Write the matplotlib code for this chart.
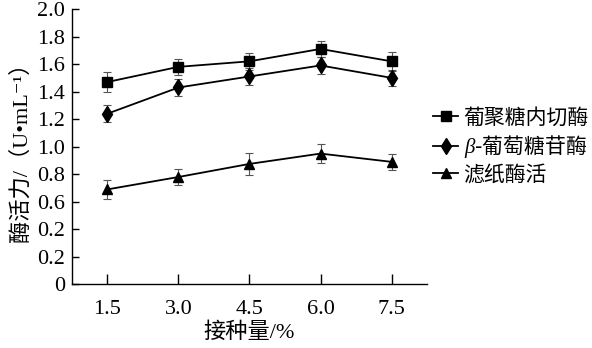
import matplotlib
matplotlib.use("Agg")
import matplotlib.pyplot as plt

plt.rcParams['font.family'] = ['Liberation Serif', 'Noto Sans CJK SC', 'DejaVu Sans']
plt.rcParams['mathtext.fontset'] = 'custom'
plt.rcParams['mathtext.it'] = 'Liberation Serif:italic'
plt.rcParams['mathtext.rm'] = 'Liberation Serif'

x_labels = ["1.5", "3.0", "4.5", "6.0", "7.5"]
x_vals = [1.5, 3.0, 4.5, 6.0, 7.5]

endo = [1.47, 1.58, 1.62, 1.71, 1.62]
endo_err = [0.07, 0.06, 0.06, 0.06, 0.07]
beta = [1.24, 1.43, 1.51, 1.59, 1.50]
beta_err = [0.06, 0.065, 0.06, 0.06, 0.06]
fpa = [0.69, 0.78, 0.875, 0.95, 0.89]
fpa_err = [0.07, 0.06, 0.08, 0.07, 0.06]

y_ticks = [0, 0.2, 0.4, 0.6, 0.8, 1.0, 1.2, 1.4, 1.6, 1.8, 2.0]
y_tick_labels = ["0", "0.2", "0.2", "0.6", "0.8", "1.0", "1.2", "1.4", "1.6", "1.8", "2.0"]

series = [
    ("葡聚糖内切酶", endo, endo_err, "s", 7.5),
    (r"$\mathit{\beta}$-葡萄糖苷酶", beta, beta_err, "d", 8.5),
    ("滤纸酶活", fpa, fpa_err, "^", 7.5),
]

fig = plt.figure(figsize=(5.92, 3.48), dpi=100)
ax = fig.add_axes([0.1216, 0.1828, 0.5997, 0.7913])

handles = []
for name, vals, errs, mk, ms in series:
    ax.errorbar(x_vals, vals, yerr=errs, fmt='none', ecolor='#555555',
                elinewidth=0.8, capsize=3, capthick=0.8, zorder=2)
    h, = ax.plot(x_vals, vals, color='black', lw=1.3, marker=mk, ms=ms,
                 mfc='black', mec='black', zorder=3, label=name)
    handles.append(h)

ax.set_xlim(0.75, 8.25)
ax.set_ylim(0, 2.0)
ax.set_xticks(x_vals)
ax.set_xticklabels(x_labels)
ax.set_yticks(y_ticks)
ax.set_yticklabels(y_tick_labels)
ax.spines['top'].set_visible(False)
ax.spines['right'].set_visible(False)
ax.spines['left'].set_linewidth(1.0)
ax.spines['bottom'].set_linewidth(1.0)
ax.tick_params(axis='x', direction='in', length=7, width=1.0, labelsize=16, pad=11)
ax.tick_params(axis='y', direction='in', length=5, width=1.0, labelsize=16, pad=5)

ax.set_xlabel("接种量/%", fontsize=16, labelpad=3)
ax.set_ylabel("酶活力/（U•mL⁻¹）", fontsize=16, labelpad=4)

leg = fig.legend(handles=handles, loc='upper left', bbox_to_anchor=(0.718, 0.712),
                 frameon=False, fontsize=15, handlelength=1.2, handletextpad=0.25,
                 labelspacing=0.24, borderaxespad=0)
leg.get_texts()[1].set_fontfamily('Noto Sans CJK SC')

fig.savefig("out.png", dpi=100)
